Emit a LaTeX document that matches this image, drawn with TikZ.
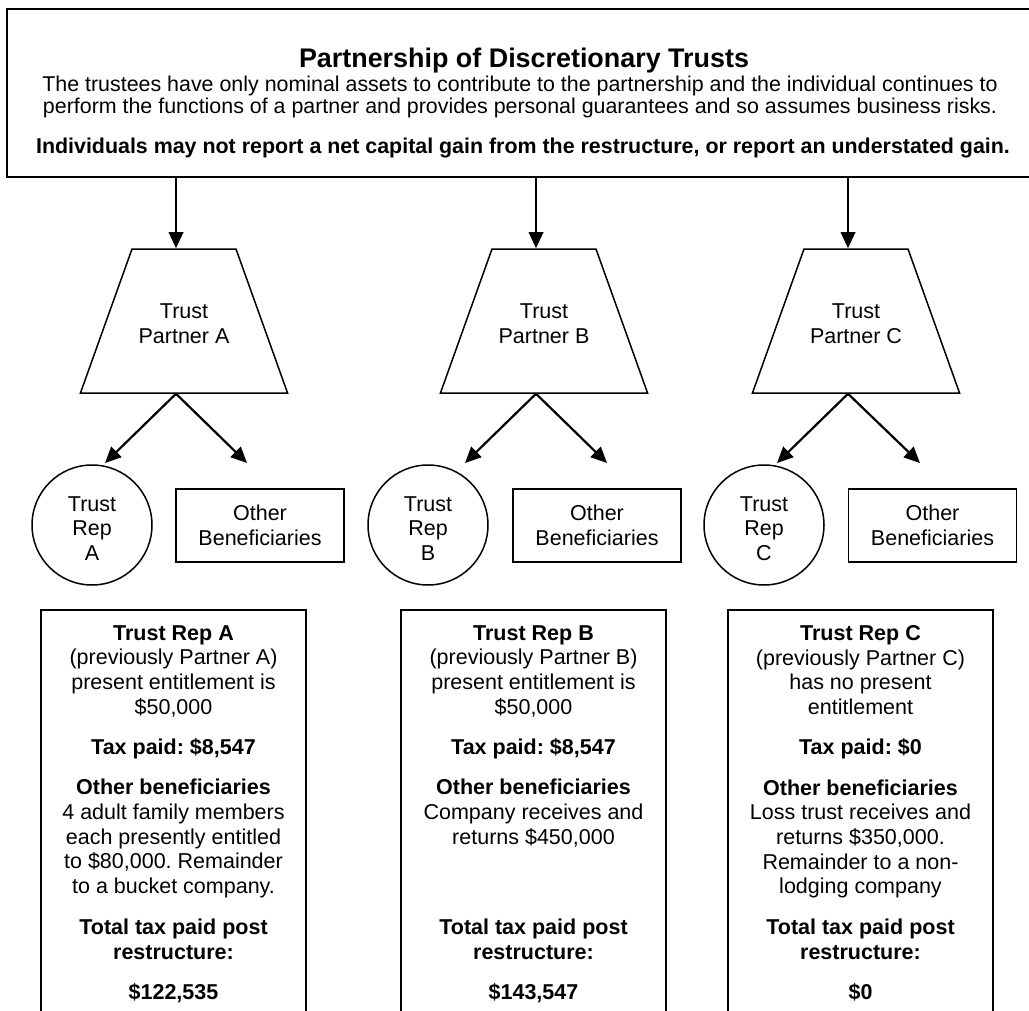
\documentclass[tikz,border=0pt]{standalone}
\usepackage{fontspec}
\setmainfont{Liberation Sans}
\frenchspacing
\usetikzlibrary{arrows.meta,shapes.geometric,positioning}
\tikzset{
	x=0.5pt,y=-0.5pt,
	font=\fontsize{10.75}{12.35}\selectfont,
	arr/.style={-{Triangle[length=8pt,width=7.2pt]},line width=1.1pt},
	banner/.style={rectangle,draw,line width=0.75pt,inner sep=0pt,minimum width=512.5pt,minimum height=84pt},
	trust/.style={trapezium,draw,line width=0.75pt,trapezium left angle=70.3,trapezium right angle=70.3,inner sep=0pt},
	rep/.style={circle,draw,line width=0.75pt,minimum size=60pt,inner sep=0pt,align=center},
	others/.style={rectangle,draw,line width=0.75pt,minimum width=84pt,minimum height=36.5pt,align=center},
	summary/.style={rectangle,draw,line width=0.75pt,minimum width=132.5pt,minimum height=220pt,anchor=north},
	txt/.style={inner sep=0pt,align=center}
}
\newcommand{\trustbox}[1]{\parbox[c][72pt][c]{52pt}{\centering\vspace*{3pt}#1}}
\newcommand{\repbox}[1]{\raisebox{-3pt}[\height][\depth]{\begin{tabular}{@{}c@{}}#1\end{tabular}}}

\begin{document}
\begin{tikzpicture}
    \useasboundingbox (0,0) rectangle (1029,1011);
    \clip (0,0) rectangle (1029,1011);

    % heading
    \node[banner] (head) at (519.5,93) {};
    \node[txt, font=\fontsize{13.45}{16}\selectfont\bfseries] (title) at (524,61) {Partnership of Discretionary Trusts};
    \node[txt, font=\fontsize{10.7}{10.9}\selectfont] (intro) at (520,97) {The trustees have only nominal assets to contribute to the partnership and the individual continues to\\perform the functions of a partner and provides personal guarantees and so assumes business risks.};
    \node[txt, font=\fontsize{10.7}{10.9}\selectfont\bfseries] (warn) at (523,148) {Individuals may not report a net capital gain from the restructure, or report an understated gain.};

    % partner trusts
    \node[trust] (tpA) at (184,321) {\trustbox{Trust\\Partner A}};
    \node[trust] (tpB) at (544,321) {\trustbox{Trust\\Partner B}};
    \node[trust] (tpC) at (856,321) {\trustbox{Trust\\Partner C}};

    % beneficiaries
    \node[rep] (repA) at (92,525) {\repbox{Trust\\Rep\\A}};
    \node[others] (othA) at (260,525.5) {Other\\Beneficiaries};
    \node[rep] (repB) at (428,525) {\repbox{Trust\\Rep\\B}};
    \node[others] (othB) at (597,525.5) {Other\\Beneficiaries};
    \node[rep] (repC) at (764,525) {\repbox{Trust\\Rep\\C}};
    \node[others] (othC) at (932.5,525.5) {Other\\Beneficiaries};

    % connectors
    \coordinate (apA) at ([xshift=-4pt]tpA.south);
    \coordinate (apB) at ([xshift=-4pt]tpB.south);
    \coordinate (apC) at ([xshift=-4pt]tpC.south);
    \coordinate (inRepA) at (105,463);
    \coordinate (inOthA) at (247,463);
    \coordinate (inRepB) at (465,463);
    \coordinate (inOthB) at (607,463);
    \coordinate (inRepC) at (777,463);
    \coordinate (inOthC) at (920,463);

    \path[arr] (apA |- head.south) edge ([xshift=-4pt]tpA.north);
    \path[arr] (apB |- head.south) edge ([xshift=-4pt]tpB.north);
    \path[arr] (apC |- head.south) edge ([xshift=-4pt]tpC.north);
    \path[arr] (apA) edge (inRepA) edge (inOthA);
    \path[arr] (apB) edge (inRepB) edge (inOthB);
    \path[arr] (apC) edge (inRepC) edge (inOthC);

    % outcomes
    \node[summary] (sumA) at (173.5,609) {};
    \node[txt, below=8pt of sumA.north] (detA) {\textbf{Trust Rep A}\\(previously Partner A)\\present entitlement is\\\$50,000\\[7.8pt]\textbf{Tax paid: \$8,547}\\[7.8pt]\textbf{Other beneficiaries}\\4 adult family members\\each presently entitled\\to \$80,000. Remainder\\to a bucket company.};
    \node[txt, below=155pt of sumA.north] (totA) {\textbf{Total tax paid post}\\\textbf{restructure:}\\[7.8pt]\textbf{\$122,535}};

    \node[summary] (sumB) at (533.5,609) {};
    \node[txt, below=8pt of sumB.north] (detB) {\textbf{Trust Rep B}\\(previously Partner B)\\present entitlement is\\\$50,000\\[7.8pt]\textbf{Tax paid: \$8,547}\\[7.8pt]\textbf{Other beneficiaries}\\Company receives and\\returns \$450,000};
    \node[txt, below=155pt of sumB.north] (totB) {\textbf{Total tax paid post}\\\textbf{restructure:}\\[7.8pt]\textbf{\$143,547}};

    \node[summary] (sumC) at (860.5,609) {};
    \node[txt, below=8pt of sumC.north] (detC) {\textbf{Trust Rep C}\\(previously Partner C)\\has no present\\entitlement\\[7.8pt]\textbf{Tax paid: \$0}\\[7.8pt]\textbf{Other beneficiaries}\\Loss trust receives and\\returns \$350,000.\\Remainder to a non-\\lodging company};
    \node[txt, below=155pt of sumC.north] (totC) {\textbf{Total tax paid post}\\\textbf{restructure:}\\[7.8pt]\textbf{\$0}};
\end{tikzpicture}
\end{document}
